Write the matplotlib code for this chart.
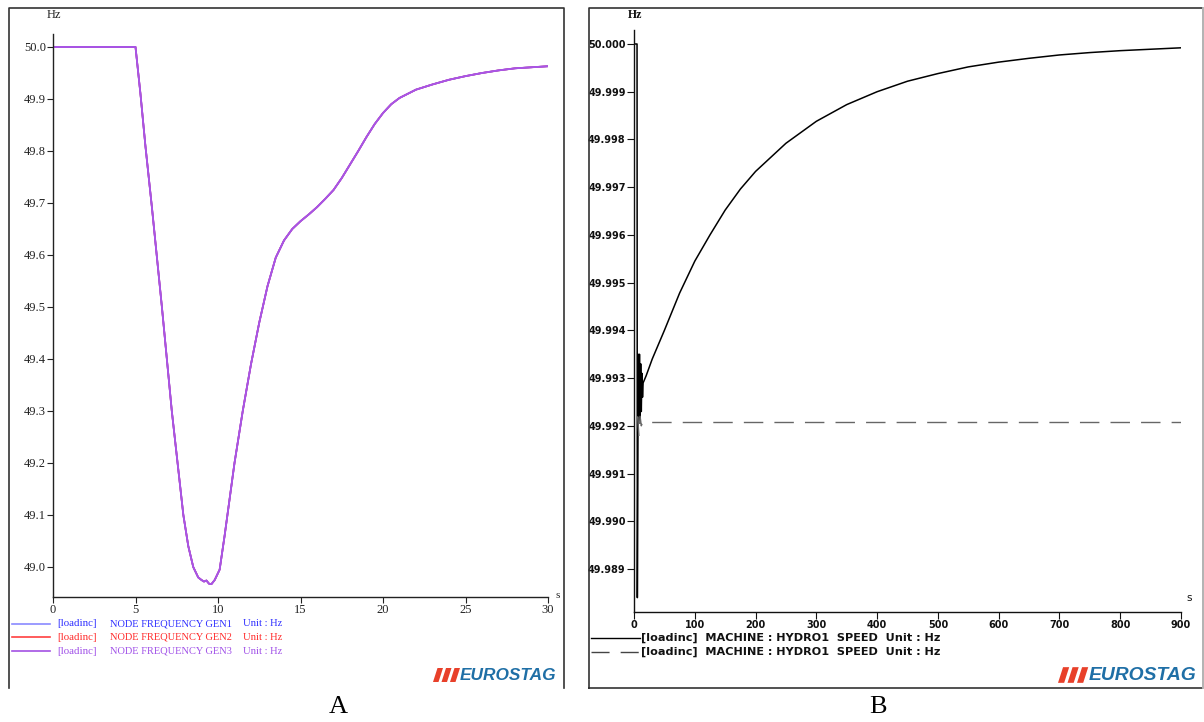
import matplotlib
matplotlib.use("Agg")
import matplotlib.pyplot as plt
from matplotlib.lines import Line2D
from matplotlib.patches import Polygon
from matplotlib.ticker import FixedLocator, FormatStrFormatter

W, H = 1204, 722

# ---------------- Data: panel A (node frequency, Hz vs s) ----------------
t_a = [0.0, 5.0, 5.3, 5.6, 6.0, 6.6, 7.2, 7.9, 8.2, 8.5, 8.8, 9.0, 9.15, 9.3,
       9.45, 9.6, 9.8, 10.1, 10.4, 10.7, 11.0, 11.5, 12.0, 12.5, 13.0, 13.5,
       14.0, 14.5, 15.0, 15.5, 16.0, 16.5, 17.0, 17.5, 18.0, 18.5, 19.0, 19.5,
       20.0, 20.5, 21.0, 22.0, 23.0, 24.0, 25.0, 26.0, 27.0, 28.0, 29.0, 30.0]
f_a = [50.0, 50.0, 49.91, 49.81, 49.69, 49.50, 49.30, 49.10, 49.04, 49.00,
       48.98, 48.975, 48.972, 48.974, 48.968, 48.967, 48.975, 48.995, 49.06,
       49.13, 49.20, 49.30, 49.39, 49.47, 49.54, 49.595, 49.628, 49.65, 49.665,
       49.678, 49.692, 49.708, 49.725, 49.748, 49.774, 49.80, 49.827, 49.852,
       49.873, 49.89, 49.902, 49.918, 49.928, 49.937, 49.944, 49.95, 49.955,
       49.959, 49.961, 49.963]
gen_names = ["GEN1", "GEN2", "GEN3"]
gen_line_colors = ["#8a8aff", "#ff4040", "#a352e3"]
gen_text_colors = ["#2e2eff", "#ff2a2a", "#a050e8"]
xticks_a = [0, 5, 10, 15, 20, 25, 30]
yticks_a = [49.0, 49.1, 49.2, 49.3, 49.4, 49.5, 49.6, 49.7, 49.8, 49.9, 50.0]

# ---------------- Data: panel B (machine speed, Hz vs s) ----------------
t_b = [0, 5, 5.5, 7, 8, 9, 10, 11, 12, 13, 14, 15, 20, 30, 50, 75, 100, 125,
       150, 175, 200, 250, 300, 350, 400, 450, 500, 550, 600, 650, 700, 750,
       800, 850, 900]
f_b = [50.0, 50.0, 49.9884, 49.9935, 49.9922, 49.9935, 49.9921, 49.9933,
       49.9923, 49.9931, 49.9926, 49.99290, 49.99305, 49.99340, 49.99400,
       49.99478, 49.99545, 49.99600, 49.99652, 49.99696, 49.99733, 49.99792,
       49.99838, 49.99873, 49.99900, 49.99922, 49.99938, 49.99952, 49.99962,
       49.99970, 49.99977, 49.99982, 49.99986, 49.99989, 49.99992]
t_b2 = [6, 8, 10, 12, 14, 900]
f_b2 = [49.9922, 49.9918, 49.9922, 49.99200, 49.99207, 49.99207]
xticks_b = [0, 100, 200, 300, 400, 500, 600, 700, 800, 900]
yticks_b = [49.989, 49.990, 49.991, 49.992, 49.993, 49.994, 49.995, 49.996,
            49.997, 49.998, 49.999, 50.000]
legend_b = "[loadinc]  MACHINE : HYDRO1  SPEED  Unit : Hz"

fig = plt.figure(figsize=(W / 100, H / 100), dpi=100)
fig.patch.set_facecolor("white")


def fx(x):
    return x / W


def fy(y):
    return 1 - y / H


def axes_px(l, t, r, b):
    return [fx(l), fy(b), (r - l) / W, (b - t) / H]


def fline(xs, ys, **kw):
    fig.add_artist(Line2D([fx(x) for x in xs], [fy(y) for y in ys],
                          transform=fig.transFigure, **kw))


# frames
fline([9, 9, 564, 564], [688, 8, 8, 688], color="#333333", lw=1.2)
fline([589, 589, 1203, 1203, 589], [688, 8, 8, 688, 688], color="#333333", lw=1.2)
fline([1203, 1203], [8, 688], color="#c8c8c8", lw=1.2)

serif = "Liberation Serif"

# ---------------- Panel A ----------------
axA = fig.add_axes(axes_px(53, 34, 548, 597))
for name, c in zip(gen_names, gen_line_colors):
    axA.plot(t_a, f_a, color=c, lw=1.2)
axA.plot(t_a, f_a, color="#a855e6", lw=1.3)
axA.set_xlim(0, 30)
axA.set_ylim(48.9423, 50.025)
axA.xaxis.set_major_locator(FixedLocator(xticks_a))
axA.yaxis.set_major_locator(FixedLocator(yticks_a))
axA.yaxis.set_major_formatter(FormatStrFormatter("%.1f"))
axA.xaxis.set_major_formatter(FormatStrFormatter("%d"))
for s in ["top", "right"]:
    axA.spines[s].set_visible(False)
for s in ["left", "bottom"]:
    axA.spines[s].set_color("#222222")
    axA.spines[s].set_linewidth(1.0)
axA.tick_params(axis="both", direction="out", length=4, width=0.8,
                labelsize=9, colors="#222222", pad=1)
for lab in axA.get_xticklabels() + axA.get_yticklabels():
    lab.set_fontfamily(serif)
fig.text(fx(47), fy(15), "Hz", fontsize=9, family=serif, va="center", ha="left",
         color="#222222")
fig.text(fx(555), fy(596), "s", fontsize=8, family=serif, va="center", ha="left",
         color="#222222")

leg_y = [624, 637, 651]
for name, lc, tc, y in zip(gen_names, gen_line_colors, gen_text_colors, leg_y):
    fline([12, 50], [y, y], color=lc, lw=1.2)
    fig.text(fx(57), fy(y), "[loadinc]", fontsize=7.8, family=serif, color=tc,
             va="center", ha="left")
    fig.text(fx(110), fy(y), "NODE FREQUENCY " + name, fontsize=7.5, family=serif,
             color=tc, va="center", ha="left")
    fig.text(fx(243), fy(y), "Unit : Hz", fontsize=7.6, family=serif, color=tc,
             va="center", ha="left")

# ---------------- Panel B ----------------
axB = fig.add_axes(axes_px(634, 30, 1181, 612))
axB.plot(t_b, f_b, color="black", lw=1.1)
axB.plot(t_b2, f_b2, color="#666666", lw=1.0, dashes=(14, 8))
axB.set_xlim(0, 900)
axB.set_ylim(49.98810, 50.000293)
axB.xaxis.set_major_locator(FixedLocator(xticks_b))
axB.yaxis.set_major_locator(FixedLocator(yticks_b))
axB.yaxis.set_major_formatter(FormatStrFormatter("%.3f"))
axB.xaxis.set_major_formatter(FormatStrFormatter("%d"))
for s in ["top", "right"]:
    axB.spines[s].set_visible(False)
for s in ["left", "bottom"]:
    axB.spines[s].set_color("#111111")
    axB.spines[s].set_linewidth(1.0)
axB.tick_params(axis="both", direction="out", length=5, width=0.8,
                labelsize=7, colors="#111111", pad=1)
for lab in axB.get_xticklabels() + axB.get_yticklabels():
    lab.set_fontfamily("DejaVu Sans")
    lab.set_fontweight("bold")
fig.text(fx(628), fy(15), "Hz", fontsize=8.5, family=serif, weight="bold",
         va="center", ha="left", color="#111111")
fig.text(fx(1186), fy(598), "s", fontsize=7.5, family="DejaVu Sans",
         va="center", ha="left", color="#111111")

fline([591, 640], [638, 638], color="black", lw=1.0)
fline([591, 640], [652, 652], color="#444444", lw=1.0, dashes=(13, 8))
for y in [638, 652]:
    fig.text(fx(641), fy(y), legend_b, fontsize=8.1, family="DejaVu Sans",
             weight="bold", va="center", ha="left", color="#111111")

# ---------------- logos ----------------
for x0, scale, fs in [(433, 1.0, 12.4), (1058, 1.12, 13.9)]:
    ytop, ybot = 675 - 7 * scale, 675 + 7 * scale
    for i in range(3):
        bx = x0 + i * 8.5 * scale
        pts = [(fx(bx), fy(ybot)), (fx(bx + 5.5 * scale), fy(ybot)),
               (fx(bx + 10 * scale), fy(ytop)), (fx(bx + 4.5 * scale), fy(ytop))]
        fig.add_artist(Polygon(pts, closed=True, transform=fig.transFigure,
                               facecolor="#e8402a", edgecolor="none"))
    fig.text(fx(x0 + 27 * scale), fy(675.5), "EUROSTAG", fontsize=fs,
             family="Liberation Sans", weight="bold", style="italic",
             color="#1f6fa6", va="center", ha="left")

# panel letters
fig.text(fx(338), fy(707), "A", fontsize=19, family=serif, ha="center", va="center")
fig.text(fx(878), fy(707), "B", fontsize=19, family=serif, ha="center", va="center")

fig.savefig("out.png", dpi=100, facecolor="white")
